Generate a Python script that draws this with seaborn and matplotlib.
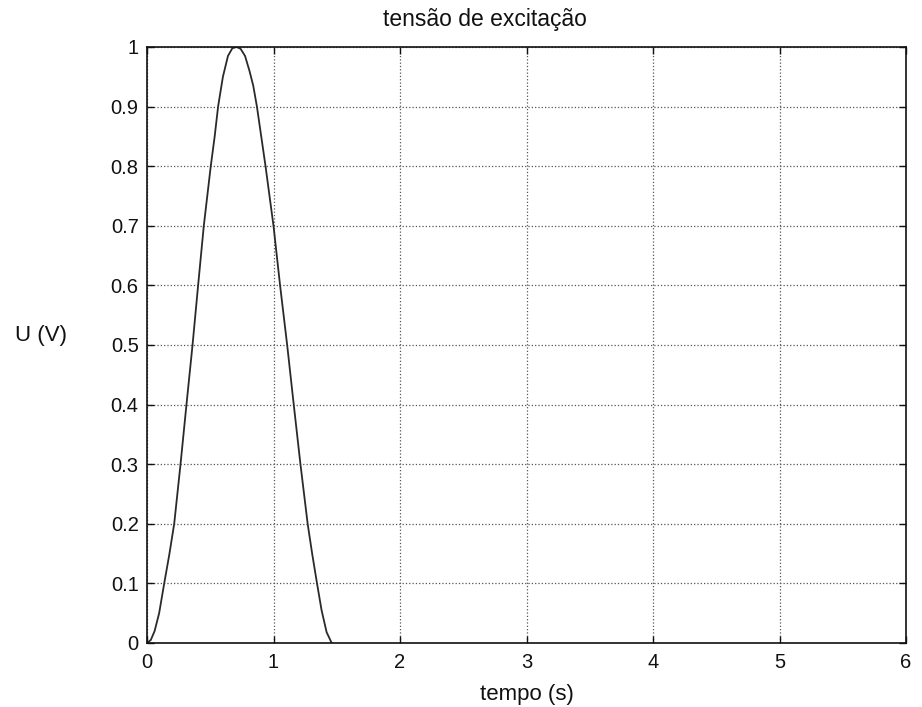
import matplotlib
matplotlib.use("Agg")
import matplotlib.pyplot as plt
import seaborn as sns
import pandas as pd

# values
tempo = [0.00, 0.03, 0.06, 0.096, 0.136, 0.176, 0.215, 0.265, 0.312, 0.36, 0.404,
         0.449, 0.504, 0.535, 0.562, 0.60, 0.64, 0.675, 0.709, 0.74, 0.775, 0.81,
         0.84, 0.869, 0.937, 1.00, 1.052, 1.108, 1.16, 1.213, 1.27, 1.307, 1.344,
         1.38, 1.42, 1.46]
tensao = [0.00, 0.005, 0.02, 0.05, 0.10, 0.148, 0.20, 0.30, 0.40, 0.50, 0.60,
          0.70, 0.80, 0.85, 0.90, 0.95, 0.985, 0.998, 1.00, 0.997, 0.985, 0.96,
          0.935, 0.90, 0.80, 0.70, 0.60, 0.50, 0.40, 0.30, 0.20, 0.148, 0.10,
          0.055, 0.018, 0.00]
xticks = [0, 1, 2, 3, 4, 5, 6]
yticks = [0, 0.1, 0.2, 0.3, 0.4, 0.5, 0.6, 0.7, 0.8, 0.9, 1]
ytick_labels = ["0", "0.1", "0.2", "0.3", "0.4", "0.5", "0.6", "0.7", "0.8", "0.9", "1"]

df = pd.DataFrame({"tempo": tempo, "U": tensao})

sns.set_theme(style="white")
plt.rcParams["font.family"] = ["Liberation Sans", "DejaVu Sans"]

fig = plt.figure(figsize=(9.22, 7.07), dpi=100)
ax = fig.add_axes([147 / 922, (707 - 643) / 707, 759 / 922, 596 / 707])

sns.lineplot(data=df, x="tempo", y="U", ax=ax, color="#2a2a2a", linewidth=1.3,
             estimator=None, sort=False)

ax.set_xlim(0, 6)
ax.set_ylim(0, 1)
ax.set_xticks(xticks)
ax.set_xticklabels([str(v) for v in xticks])
ax.set_yticks(yticks)
ax.set_yticklabels(ytick_labels)
ax.tick_params(axis="both", direction="in", length=5, width=1, labelsize=14.5,
               colors="#111111", top=True, right=True, bottom=True, left=True)
ax.tick_params(axis="x", pad=7)
ax.tick_params(axis="y", pad=6)
ax.grid(True, linestyle=":", color="#555555", linewidth=0.9)
for s in ax.spines.values():
    s.set_visible(True)
    s.set_color("#111111")
    s.set_linewidth(1.2)

ax.set_title("tensão de excitação", fontsize=16.5, pad=15, color="#111111",
             x=(485 - 147) / 759)
ax.set_xlabel("tempo (s)", fontsize=16, color="#111111", labelpad=9)
ax.set_ylabel("U (V)", fontsize=16, color="#111111", rotation=0,
              ha="center", va="center")
ax.yaxis.set_label_coords((41 - 147) / 759, (643 - 335) / 596)

fig.savefig("out.png", dpi=100, facecolor="white")
